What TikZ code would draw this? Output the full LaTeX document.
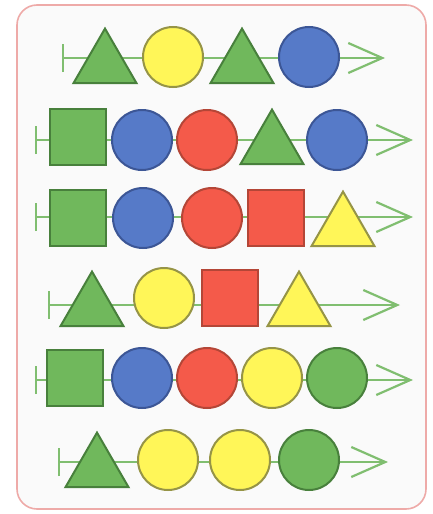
\documentclass[tikz,border=0pt]{standalone}
\usetikzlibrary{arrows.meta,shapes.geometric}
\definecolor{grn}{RGB}{112,184,92}
\definecolor{grnd}{RGB}{72,128,60}
\definecolor{ylw}{RGB}{255,246,88}
\definecolor{ylwd}{RGB}{150,148,70}
\definecolor{blu}{RGB}{86,122,200}
\definecolor{blud}{RGB}{60,86,150}
\definecolor{rd}{RGB}{244,90,74}
\definecolor{rdd}{RGB}{180,70,55}
\definecolor{trk}{RGB}{128,190,112}
\definecolor{frm}{RGB}{238,170,168}

\begin{document}
\begin{tikzpicture}[x=0.5pt, y=-0.5pt,
	track/.style={trk, line width=1.1pt, {Bar[width=14pt]}-{Straight Barb[length=17pt, width=15pt]}},
	shp/.style={line width=1pt, inner sep=0pt, outer sep=0pt},
	circ/.style={shp, circle, minimum size=30pt},
	sq/.style={shp, rectangle, minimum size=28pt},
	tri/.style={shp, regular polygon, regular polygon sides=3, minimum size=36.4pt},
	G/.style={fill=grn, draw=grnd}, Y/.style={fill=ylw, draw=ylwd},
	B/.style={fill=blu, draw=blud}, R/.style={fill=rd, draw=rdd}]
	\useasboundingbox (0,0) rectangle (433,514);
	\draw[frm, line width=0.8pt, fill=gray!4, rounded corners=10pt] (17,5) rectangle (426,509);
	% row 1
	\coordinate (s1) at (62,58); \coordinate (e1) at (385,58);
	\draw[track] (s1) -- (e1);
	\node[tri, G] (r1a) at (105,65) {};
	\node[circ, Y] (r1b) at (173,57) {};
	\node[tri, G] (r1c) at (242,65) {};
	\node[circ, B] (r1d) at (309,57) {};
	% row 2
	\coordinate (s2) at (35,140); \coordinate (e2) at (413,140);
	\draw[track] (s2) -- (e2);
	\node[sq, G] (r2a) at (78,137) {};
	\node[circ, B] (r2b) at (142,140) {};
	\node[circ, R] (r2c) at (207,140) {};
	\node[tri, G] (r2d) at (272,146) {};
	\node[circ, B] (r2e) at (337,140) {};
	% row 3
	\coordinate (s3) at (35,217); \coordinate (e3) at (413,217);
	\draw[track] (s3) -- (e3);
	\node[sq, G] (r3a) at (78,218) {};
	\node[circ, B] (r3b) at (143,218) {};
	\node[circ, R] (r3c) at (212,218) {};
	\node[sq, R] (r3d) at (276,218) {};
	\node[tri, Y] (r3e) at (343,228) {};
	% row 4
	\coordinate (s4) at (48,305); \coordinate (e4) at (400,305);
	\draw[track] (s4) -- (e4);
	\node[tri, G] (r4a) at (92,308) {};
	\node[circ, Y] (r4b) at (164,298) {};
	\node[sq, R] (r4c) at (230,298) {};
	\node[tri, Y] (r4d) at (299,308) {};
	% row 5
	\coordinate (s5) at (35,380); \coordinate (e5) at (413,380);
	\draw[track] (s5) -- (e5);
	\node[sq, G] (r5a) at (75,378) {};
	\node[circ, B] (r5b) at (142,378) {};
	\node[circ, R] (r5c) at (207,378) {};
	\node[circ, Y] (r5d) at (272,378) {};
	\node[circ, G] (r5e) at (337,378) {};
	% row 6
	\coordinate (s6) at (58,462); \coordinate (e6) at (388,462);
	\draw[track] (s6) -- (e6);
	\node[tri, G] (r6a) at (97,469) {};
	\node[circ, Y] (r6b) at (168,460) {};
	\node[circ, Y] (r6c) at (240,460) {};
	\node[circ, G] (r6d) at (309,460) {};
\end{tikzpicture}
\end{document}
